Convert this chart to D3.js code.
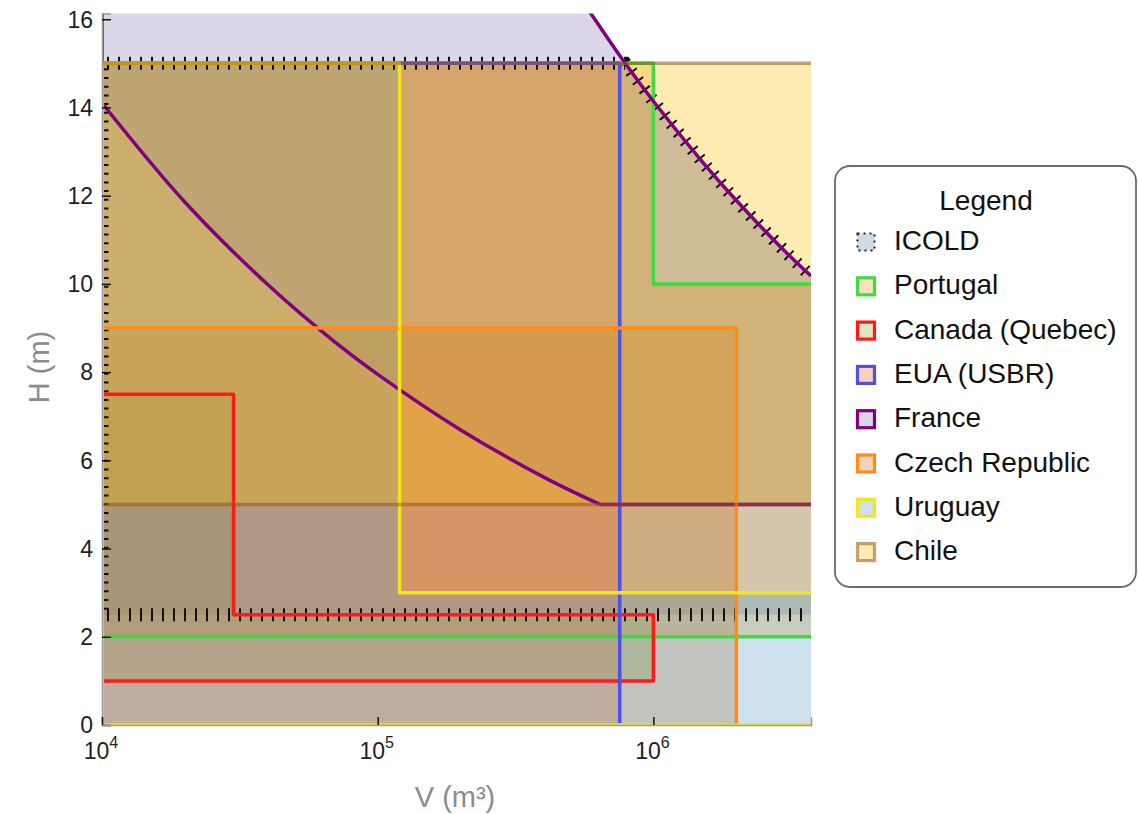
<!DOCTYPE html>
<html>
<head>
<meta charset="utf-8">
<script src="https://cdn.jsdelivr.net/npm/d3@7"></script>
<style>
  body { margin: 0; background: #fff; }
  text { font-family: Arial, "Liberation Sans", sans-serif; }
</style>
</head>
<body>
<div class="chart"></div>
<script>
// Small dam criteria by country, V (m3) vs H (m)

// plot range
var vMin = 1e4;
var vMax = 3.73e6;
var hMin = 0;
var hMax = 16.13;

// ticks
var yTicks = [0, 2, 4, 6, 8, 10, 12, 14, 16];
var xTicks = [1e4, 1e5, 1e6];
var xTickExp = ["4", "5", "6"];

// legend
var regionNames = ["ICOLD", "Portugal", "Canada (Quebec)", "EUA (USBR)", "France", "Czech Republic", "Uruguay", "Chile"];
var fillColors = ["#5E81B5", "#E19C24", "#8FB032", "#EB6235", "#8778B3", "#C56E1A", "#5D9EC7", "#FFBF00"];
var lineColors = ["#222222", "#3fdc3f", "#ff1a1a", "#5050e6", "#800080", "#ff8c1a", "#f2e619", "rgba(150,85,20,0.55)"];

// France curves
var franceLow = [[1e4, 14.1], [2e4, 11.85], [4e4, 9.98], [7e4, 8.68], [1e5, 7.95], [2e5, 6.69], [4e5, 5.62], [6.4e5, 5.0]];
var franceHigh = [[5e5, 16.82], [7.9e5, 15.0], [1e6, 14.14], [1.5e6, 12.78], [2e6, 11.89], [3e6, 10.74], [3.73e6, 10.18]];

// limits
var portugalV = 1e6;
var portugalH = [2, 10, 15];
var canadaV = [3e4, 1e6];
var canadaH = [1, 2.5, 7.5];
var usbrV = 7.55e5;
var usbrH = 15;
var czechV = 2e6;
var czechH = 9;
var uruguayV = 1.2e5;
var uruguayH = [3, 15];
var chileH = [5, 15];
var icoldH = [2.5, 15];
var franceH = 5;

var svgWidth = 1138;
var svgHeight = 814;
var svg = d3.select(".chart").append("svg")
  .attr("width", svgWidth)
  .attr("height", svgHeight);

var x = d3.scaleLog().domain([vMin, vMax]).range([102, 811]);
var y = d3.scaleLinear().domain([hMin, hMax]).range([725, 13.5]);

var straight = d3.line()
  .x(function (d) { return x(d[0]); })
  .y(function (d) { return y(d[1]); });
var smooth = d3.line()
  .x(function (d) { return x(d[0]); })
  .y(function (d) { return y(d[1]); })
  .curve(d3.curveCatmullRom);

// a piece is {pts: [...], curve: bool}; pieces are joined into one path
function piece(pts, curve) {
  return { pts: pts, curve: !!curve };
}
function buildPath(pieces, close) {
  var s = "";
  pieces.forEach(function (p, i) {
    var gen = p.curve ? smooth : straight;
    var part = gen(p.pts).replace(/Z$/, "");   // single points come back as "M..Z"
    if (i > 0) part = "L" + part.slice(1);
    s += part;
  });
  if (close) s += "Z";
  return s;
}
function reversed(a) {
  return a.slice().reverse();
}

var highBelow15 = franceHigh.filter(function (d) { return !(d[1] > 15); });
var lowEnd = franceLow[franceLow.length - 1];

var fills = [];
// ICOLD
fills.push([
  piece([[vMin, icoldH[0]], [vMax, icoldH[0]]]),
  piece(reversed(highBelow15), true),
  piece([[vMin, icoldH[1]]])
]);
// Portugal
fills.push([piece([[vMin, portugalH[0]], [vMax, portugalH[0]], [vMax, portugalH[1]],
  [portugalV, portugalH[1]], [portugalV, portugalH[2]], [vMin, portugalH[2]]])]);
// Canada
fills.push([piece([[vMin, canadaH[0]], [canadaV[1], canadaH[0]], [canadaV[1], canadaH[1]],
  [canadaV[0], canadaH[1]], [canadaV[0], canadaH[2]], [vMin, canadaH[2]]])]);
// USBR
fills.push([piece([[vMin, 0], [usbrV, 0], [usbrV, usbrH], [vMin, usbrH]])]);
// France
fills.push([
  piece([[vMin, 17]]),
  piece(franceLow, true),
  piece([[vMax, franceH]]),
  piece(reversed(franceHigh), true),
  piece([[vMin, 17]])
]);
// Czech
fills.push([piece([[vMin, 0], [czechV, 0], [czechV, czechH], [vMin, czechH]])]);
// Uruguay
fills.push([piece([[vMin, 0], [vMax, 0], [vMax, uruguayH[0]], [uruguayV, uruguayH[0]],
  [uruguayV, uruguayH[1]], [vMin, uruguayH[1]]])]);
// Chile
fills.push([piece([[vMin, chileH[0]], [vMax, chileH[0]], [vMax, chileH[1]], [vMin, chileH[1]]])]);

var borders = [];
borders.push([]);
// Portugal
borders.push([
  [piece([[vMin, portugalH[0]], [vMin, portugalH[2]]])],
  [piece([[vMin, portugalH[0]], [vMax, portugalH[0]]])],
  [piece([[vMin, portugalH[2]], [portugalV, portugalH[2]], [portugalV, portugalH[1]], [vMax, portugalH[1]]])]
]);
// Canada
borders.push([
  [piece([[vMin, canadaH[2]], [canadaV[0], canadaH[2]], [canadaV[0], canadaH[1]],
    [canadaV[1], canadaH[1]], [canadaV[1], canadaH[0]], [vMin, canadaH[0]]])]
]);
// USBR
borders.push([
  [piece([[vMin, usbrH], [usbrV, usbrH], [usbrV, 0]])]
]);
// France
borders.push([
  [piece([[vMin, 17], [vMin, franceLow[0][1]]])],
  [piece(franceLow, true)],
  [piece([[lowEnd[0], franceH], [vMax, franceH]])],
  [piece(franceHigh, true)]
]);
// Czech
borders.push([
  [piece([[vMin, 0], [vMin, czechH], [czechV, czechH], [czechV, 0], [vMin, 0]])]
]);
// Uruguay
borders.push([
  [piece([[vMin, 0], [vMin, uruguayH[1]], [uruguayV, uruguayH[1]], [uruguayV, uruguayH[0]], [vMax, uruguayH[0]]])],
  [piece([[vMin, 0], [vMax, 0]])]
]);
// Chile
borders.push([
  [piece([[vMin, chileH[0]], [vMax, chileH[0]]])],
  [piece([[vMin, chileH[1]], [vMax, chileH[1]]])]
]);

svg.append("clipPath").attr("id", "plotclip")
  .append("rect")
  .attr("x", x(vMin)).attr("y", y(hMax))
  .attr("width", x(vMax) - x(vMin)).attr("height", y(hMin) - y(hMax));

var plot = svg.append("g").attr("clip-path", "url(#plotclip)");

// fills first
fills.forEach(function (pieces, i) {
  plot.append("path")
    .attr("d", buildPath(pieces, true))
    .attr("fill", fillColors[i])
    .attr("fill-opacity", 0.3)
    .attr("stroke", "none");
});

// ICOLD boundary: tick marks only
var icoldEdges = [
  { pieces: [piece([[vMin, icoldH[0]], [vMin, icoldH[1]]])], gap: 8.7 },
  { pieces: [piece([[vMin, icoldH[1]], [highBelow15[0][0], icoldH[1]]]), piece(highBelow15, true)], gap: 11 },
  { pieces: [piece([[vMin, icoldH[0]], [vMax, icoldH[0]]])], gap: 11 }
];
icoldEdges.forEach(function (e) {
  plot.append("path")
    .attr("d", buildPath(e.pieces, false))
    .attr("fill", "none")
    .attr("stroke", "#111")
    .attr("stroke-width", 13)
    .attr("stroke-dasharray", "2 " + (e.gap - 2))
    .attr("stroke-dashoffset", -5);
});

// other boundaries
borders.forEach(function (list, i) {
  list.forEach(function (pieces) {
    plot.append("path")
      .attr("d", buildPath(pieces, false))
      .attr("fill", "none")
      .attr("stroke", lineColors[i])
      .attr("stroke-width", 3.5)
      .attr("stroke-linejoin", "round");
  });
});

// axes
var leftAxis = d3.axisLeft(y).tickValues(yTicks).tickSize(-9).tickFormat("");
var bottomAxis = d3.axisBottom(x).tickValues(xTicks).tickSize(-8).tickFormat("");

var yAxis = svg.append("g").attr("transform", "translate(" + x(vMin) + ",0)").call(leftAxis);
var xAxis = svg.append("g").attr("transform", "translate(0," + y(hMin) + ")").call(bottomAxis);
var axes = [yAxis, xAxis];
axes.forEach(function (a) {
  a.select(".domain").attr("stroke", "#9a9a9a").attr("stroke-width", 1.5);
  a.selectAll(".tick line").attr("stroke", "#111").attr("stroke-width", 1.5);
});

svg.selectAll(".ylab").data(yTicks).enter().append("text")
  .attr("x", 93)
  .attr("y", function (d) { return y(d); })
  .attr("dy", "0.36em")
  .attr("text-anchor", "end")
  .attr("font-size", 23)
  .attr("fill", "#1e1e1e")
  .text(function (d) { return d; });

xTicks.forEach(function (v, i) {
  var t = svg.append("text")
    .attr("x", x(v) - 1).attr("y", 759)
    .attr("text-anchor", "middle")
    .attr("font-size", 23)
    .attr("fill", "#1e1e1e");
  t.append("tspan").text("10");
  t.append("tspan").attr("font-size", 16).attr("dy", -11).text(xTickExp[i]);
});

svg.append("text")
  .attr("x", 455).attr("y", 807)
  .attr("text-anchor", "middle")
  .attr("font-size", 29)
  .attr("fill", "#8c8c8c")
  .text("V (m\u00b3)");

svg.append("text")
  .attr("transform", "translate(49,367) rotate(-90)")
  .attr("text-anchor", "middle")
  .attr("font-size", 29)
  .attr("fill", "#8c8c8c")
  .text("H (m)");

// legend
var legend = svg.append("g");
legend.append("rect")
  .attr("x", 835).attr("y", 166)
  .attr("width", 301).attr("height", 421)
  .attr("rx", 15)
  .attr("fill", "#fff")
  .attr("stroke", "#6a6a6a")
  .attr("stroke-width", 1.8);

legend.append("text")
  .attr("x", 986).attr("y", 210)
  .attr("text-anchor", "middle")
  .attr("font-size", 28)
  .attr("fill", "#111")
  .text("Legend");

var items = legend.selectAll(".item").data(regionNames).enter().append("g")
  .attr("transform", function (d, i) { return "translate(0," + (250 + i * 44.3) + ")"; });

items.append("rect")
  .attr("x", 857.5).attr("y", -16.5)
  .attr("width", 17).attr("height", 17)
  .attr("fill", function (d, i) { return d3.interpolateRgb("#fff", fillColors[i])(0.3); })
  .attr("stroke", function (d, i) { return lineColors[i]; })
  .attr("stroke-width", function (d, i) { return i === 0 ? 2 : 3.2; })
  .attr("stroke-dasharray", function (d, i) { return i === 0 ? "2 4" : null; });

items.append("text")
  .attr("x", 894).attr("y", 0)
  .attr("font-size", 28)
  .attr("fill", "#111")
  .text(function (d) { return d; });
</script>
</body>
</html>
